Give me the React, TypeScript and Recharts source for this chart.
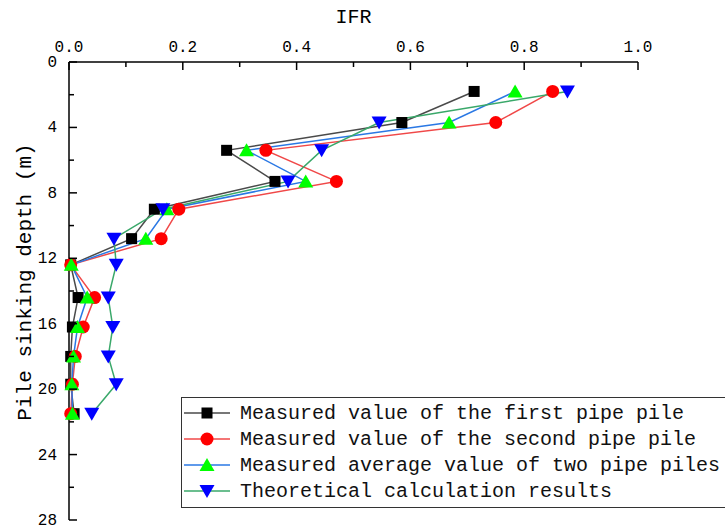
import { LineChart, Line, XAxis, YAxis, Legend } from 'recharts';

const depths = [1.8, 3.7, 5.4, 7.3, 9.0, 10.8, 12.4, 14.4, 16.2, 18.0, 19.7, 21.5];
const firstPile = [0.712, 0.585, 0.277, 0.362, 0.15, 0.11, 0.003, 0.016, 0.006, 0.003, 0.003, 0.009];
const secondPile = [0.85, 0.75, 0.346, 0.47, 0.193, 0.162, 0.003, 0.045, 0.025, 0.011, 0.006, 0.003];
const averagePiles = [0.784, 0.668, 0.312, 0.416, 0.172, 0.135, 0.004, 0.032, 0.015, 0.008, 0.005, 0.006];
const theoretical = [0.876, 0.545, 0.444, 0.385, 0.165, 0.079, 0.083, 0.069, 0.077, 0.069, 0.083, 0.04];

const xTicks = [0, 0.1, 0.2, 0.3, 0.4, 0.5, 0.6, 0.7, 0.8, 0.9, 1.0];
const yTicks = [0, 2, 4, 6, 8, 10, 12, 14, 16, 18, 20, 22, 24, 26, 28];

const series = [
  { key: 'first', name: 'Measured value of the first pipe pile', line: '#4a4a4a', fill: '#000000', shape: 'square' },
  { key: 'second', name: 'Measured value of the second pipe pile', line: '#f04848', fill: '#ff0000', shape: 'circle' },
  { key: 'average', name: 'Measured average value of two pipe piles', line: '#2a78e4', fill: '#00ff00', shape: 'up' },
  { key: 'theory', name: 'Theoretical calculation results', line: '#3aa86a', fill: '#0000ff', shape: 'down' },
];

const data = depths.map((depth, i) => ({
  depth,
  first: firstPile[i],
  second: secondPile[i],
  average: averagePiles[i],
  theory: theoretical[i],
}));

const FONT = '"Liberation Mono", monospace';

function Marker({ cx, cy, shape, fill }: any) {
  if (shape === 'square') return <rect x={cx - 5.5} y={cy - 5.5} width={11} height={11} fill={fill} />;
  if (shape === 'circle') return <circle cx={cx} cy={cy} r={6.5} fill={fill} />;
  if (shape === 'up') return <polygon points={`${cx},${cy - 7} ${cx - 7.5},${cy + 6} ${cx + 7.5},${cy + 6}`} fill={fill} />;
  return <polygon points={`${cx},${cy + 7} ${cx - 7.5},${cy - 6} ${cx + 7.5},${cy - 6}`} fill={fill} />;
}

function XTick({ x, y, payload }: any) {
  const v = payload.value;
  const major = Math.round(v * 10) % 2 === 0;
  return (
    <g>
      <line x1={x} x2={x} y1={y + 10} y2={y + 10 + (major ? 8 : 5)} stroke="#000" strokeWidth={1.5} />
      {major && (
        <text x={x} y={y} textAnchor="middle" fontSize={16} fontFamily={FONT} fill="#000">
          {v.toFixed(1)}
        </text>
      )}
    </g>
  );
}

function YTick({ x, y, payload }: any) {
  const v = payload.value;
  const major = v % 4 === 0;
  return (
    <g>
      <line x1={x + 10} x2={x + 10 + (major ? 8 : 5)} y1={y} y2={y} stroke="#000" strokeWidth={1.5} />
      {major && (
        <text x={x - 2} y={y + 5} textAnchor="end" fontSize={16} fontFamily={FONT} fill="#000">
          {v}
        </text>
      )}
    </g>
  );
}

function LegendBox() {
  return (
    <div style={{ border: '1px solid #333', background: '#fff', padding: '2px 0 3px 2px', width: 560 }}>
      {series.map((s) => (
        <div key={s.key} style={{ display: 'flex', alignItems: 'center', height: 26 }}>
          <svg width={46} height={26} style={{ flex: 'none' }}>
            <line x1={0} x2={46} y1={13} y2={13} stroke={s.line} strokeWidth={1.5} />
            <Marker cx={23} cy={13} shape={s.shape} fill={s.fill} />
          </svg>
          <span style={{ marginLeft: 10, fontFamily: FONT, fontSize: 20, color: '#111', whiteSpace: 'nowrap' }}>
            {s.name}
          </span>
        </div>
      ))}
    </div>
  );
}

export default function App() {
  return (
    <div style={{ position: 'absolute', left: 0, top: 0, width: 725, height: 526, overflow: 'hidden', background: '#fff' }}>
      <LineChart
        width={725}
        height={540}
        data={data}
        layout="vertical"
        margin={{ top: 0, right: 87, left: 0, bottom: 20 }}
      >
        <XAxis
          type="number"
          orientation="top"
          domain={[0, 1]}
          ticks={xTicks}
          interval={0}
          height={62}
          tickSize={0}
          tickMargin={10}
          tickLine={false}
          tick={<XTick />}
          axisLine={{ stroke: '#000', strokeWidth: 1.5 }}
          label={{ value: 'IFR', position: 'insideTop', offset: 9, fontSize: 20, fontFamily: FONT, fill: '#000' }}
        />
        <YAxis
          type="number"
          dataKey="depth"
          domain={[0, 28]}
          ticks={yTicks}
          interval={0}
          width={69}
          tickSize={0}
          tickMargin={10}
          tickLine={false}
          tick={<YTick />}
          axisLine={{ stroke: '#000', strokeWidth: 1.5 }}
          label={({ viewBox }: any) => {
            const cx = viewBox.x + 25;
            const cy = viewBox.y + viewBox.height / 2 - 9;
            return (
              <text
                x={cx}
                y={cy}
                transform={`rotate(-90, ${cx}, ${cy})`}
                textAnchor="middle"
                dominantBaseline="central"
                fontSize={21}
                fontFamily={FONT}
                fill="#000"
              >
                Pile sinking depth (m)
              </text>
            );
          }}
        />
        <Legend
          layout="vertical"
          align="center"
          verticalAlign="middle"
          content={() => <LegendBox />}
          wrapperStyle={{ left: 181, top: 397, width: 560 }}
        />
        {series.map((s) => (
          <Line
            key={s.key}
            type="linear"
            dataKey={s.key}
            name={s.name}
            stroke={s.line}
            strokeWidth={1.5}
            isAnimationActive={false}
            dot={(p: any) => <Marker key={`${s.key}-${p.index}`} cx={p.cx} cy={p.cy} shape={s.shape} fill={s.fill} />}
            activeDot={false}
          />
        ))}
      </LineChart>
    </div>
  );
}
